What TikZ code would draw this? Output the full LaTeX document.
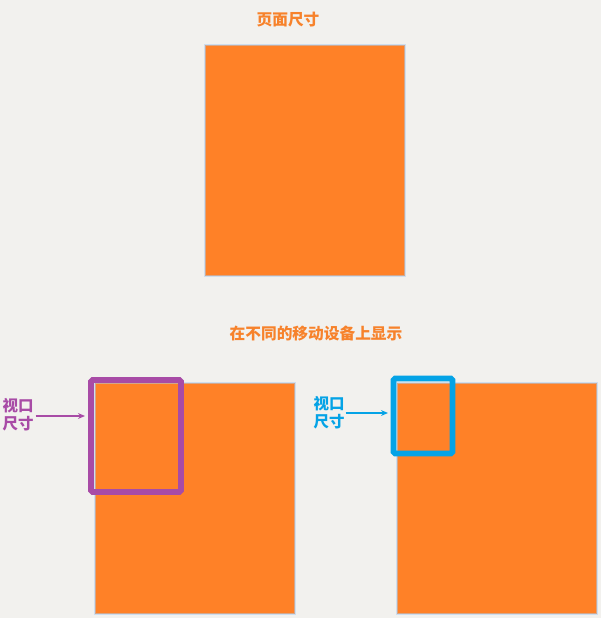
\documentclass[tikz,border=0pt]{standalone}
\usepackage{fontspec}
\usepackage{tikz}
\usetikzlibrary{arrows.meta,positioning}
\newfontfamily\cjk{Noto Sans CJK SC}
\definecolor{bgcol}{HTML}{F2F1EE}
\definecolor{pagecol}{HTML}{FF8127}
\definecolor{titlecol}{HTML}{F7822B}
\definecolor{glowcol}{HTML}{A9CDF2}
\definecolor{viewacol}{HTML}{A84BA6}
\definecolor{viewbcol}{HTML}{05A3E6}

\begin{document}
\begin{tikzpicture}[x=0.03cm, y=-0.03cm,
  page/.style={rectangle, fill=pagecol, draw=glowcol, draw opacity=0.5,
    line width=1.5pt, minimum width=6cm, minimum height=6.93cm, inner sep=0pt},
  frame/.style={rectangle, draw, line width=5pt, rounded corners=1.5pt, inner sep=0pt},
  heading/.style={font=\cjk\bfseries\fontsize{13.4}{15}\selectfont, text=titlecol},
  label/.style={font=\cjk\bfseries\fontsize{13.2}{15.5}\selectfont, align=left, inner sep=0pt},
  arr/.style={-{Stealth[length=6pt, width=5pt]}, line width=1.2pt}
]
  \fill[bgcol] (0,0) rectangle (601,618);
  \useasboundingbox (0,0) rectangle (601,618);

  % page size
  \node[heading] (pagetitle) at (288,20) {页面尺寸};
  \node[page] (pagetop) at (305,160.5) {};

  % shown on different devices
  \node[heading] (devtitle) at (316,334) {在不同的移动设备上显示};
  \node[page] (pageleft) at (195,498.5) {};
  \node[page] (pageright) at (497,498.5) {};

  \node[frame, draw=viewacol, minimum width=2.7cm, minimum height=3.36cm] (viewa) at (136,436) {};
  \node[frame, draw=viewbcol, minimum width=1.77cm, minimum height=2.25cm] (viewb) at (423,416) {};

  \node[label, text=viewacol] (labela) at (18,415) {视口\\尺寸};
  \node[label, text=viewbcol] (labelb) at (329,413) {视口\\尺寸};

  \draw[arr, viewacol] (labela.east |- 0,416) ++(2,0) coordinate (arra) -- (85,416) coordinate (enda);
  \draw[arr, viewbcol] (labelb.east |- 0,413) ++(1,0) coordinate (arrb) -- (388,413) coordinate (endb);
\end{tikzpicture}
\end{document}
